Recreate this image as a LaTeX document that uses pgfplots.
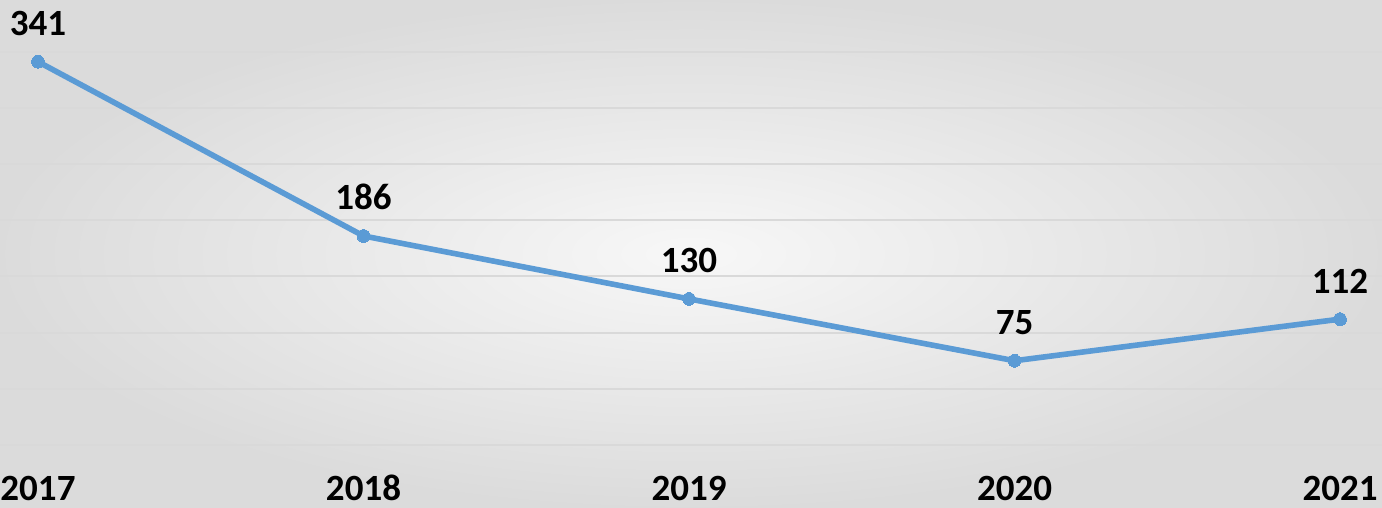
\documentclass[border=0pt]{standalone}
\usepackage{pgfplots}
\pgfplotsset{compat=1.18}
\usepackage{fontspec}
\setmainfont{Carlito}
\definecolor{lineblue}{HTML}{5B9BD5}
\definecolor{gridgray}{HTML}{D9D9D9}
\pgfplotsset{
  layers/mylayers/.define layer set={axis background, bands, axis grid, axis ticks, axis lines, axis tick labels, main, axis descriptions, axis foreground}{},
}
\begin{document}
\begin{tikzpicture}
\begin{axis}[
  set layers=mylayers,
  scale only axis,
  width=691pt, height=254pt,
  xmin=-0.1167, xmax=4.129,
  ymin=-56, ymax=395.9,
  axis line style={draw=none},
  tick style={draw=none},
  axis background/.style={shade, shading=radial, inner color=white!97!black, outer color=white!86!black},
  clip=false,
  ytick={0,50,...,350},
  yticklabels={},
  ymajorgrids=true,
  grid style={gridgray, line width=1pt},
  xtick={0,1,2,3,4},
  xticklabels={2017,2018,2019,2020,2021},
  xticklabel style={anchor=base, yshift=3.5pt, inner sep=0pt, font=\fontsize{18.5}{20}\selectfont\bfseries},
  point meta=explicit symbolic,
  nodes near coords,
  every node near coord/.append style={anchor=base, yshift=13pt, inner sep=0pt, font=\fontsize{18.5}{20}\selectfont\bfseries, text=black},
]
\begin{pgfonlayer}{bands}
\fill[black, opacity=0.03] (rel axis cs:0.675,1) -- (rel axis cs:0.76,1) -- (rel axis cs:0.38,0) -- (rel axis cs:0.22,0) -- cycle;
\fill[black, opacity=0.04] (rel axis cs:0,0.128) -- (rel axis cs:0.114,0.409) -- (rel axis cs:0.2,0.62) -- (rel axis cs:0,0.62) -- cycle;
\fill[white, opacity=0.2] (rel axis cs:1,0.567) -- (rel axis cs:1,0) -- (rel axis cs:0.62,0) -- cycle;
\end{pgfonlayer}
\addplot[lineblue, line width=2.8pt, mark=*, mark size=3.2pt, mark options={solid, fill=lineblue, draw=lineblue, line width=0pt}]
  coordinates {(0,341)[341] (1,186)[186] (2,130)[130] (3,75)[75] (4,112)[112]};
\end{axis}
\pgfresetboundingbox
\path[use as bounding box] (current axis.south west) rectangle (current axis.north east);
\end{tikzpicture}
\end{document}
